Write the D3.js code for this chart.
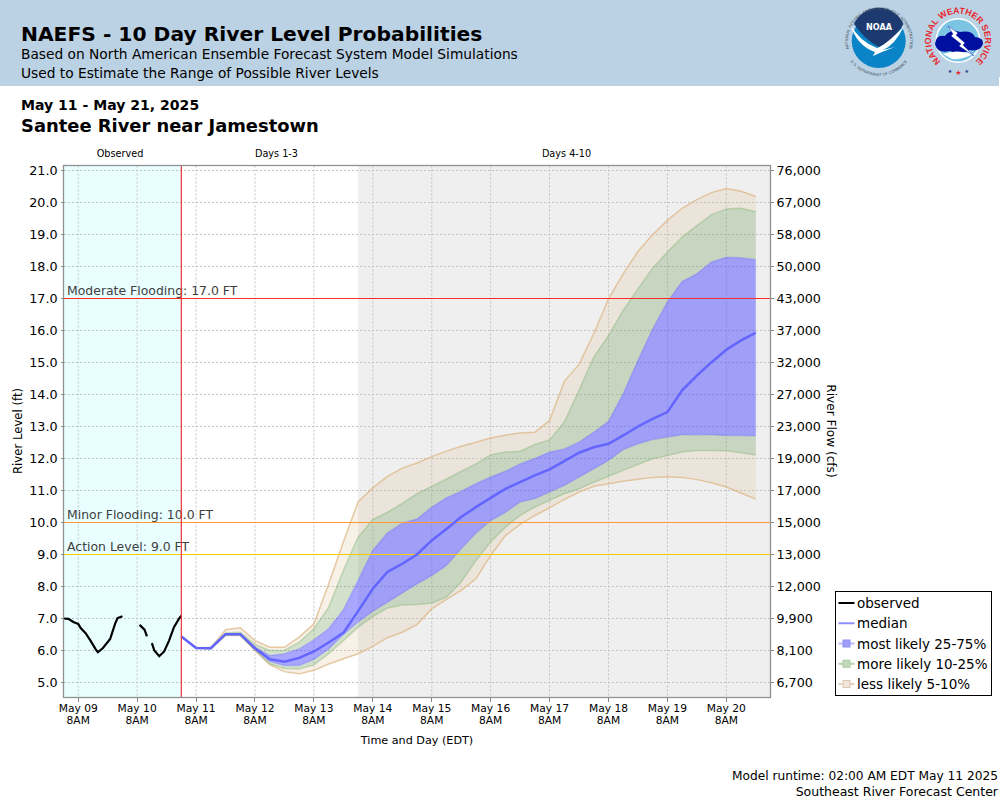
<!DOCTYPE html>
<html>
<head>
<meta charset="utf-8">
<title>NAEFS - 10 Day River Level Probabilities</title>
<script src="https://cdn.jsdelivr.net/npm/d3@7"></script>
<style>
  html, body { margin: 0; padding: 0; background: #fff; }
  svg { display: block; font-family: "DejaVu Sans", sans-serif; }
  .tick line { stroke: #888; shape-rendering: crispEdges; }
  .crisp { shape-rendering: crispEdges; }
  .domain { display: none; }
</style>
</head>
<body>
<svg id="chart" width="1000" height="800"></svg>
<script>
// left axis ticks and the flow label that goes with each stage
const stageTicks = [21, 20, 19, 18, 17, 16, 15, 14, 13, 12, 11, 10, 9, 8, 7, 6, 5];
const flowLabels = ["76,000", "67,000", "58,000", "50,000", "43,000", "37,000", "32,000", "27,000", "23,000",
                    "19,000", "17,000", "15,000", "13,000", "12,000", "9,900", "8,100", "6,700"];
const dayTicks = ["05-09", "05-10", "05-11", "05-12", "05-13", "05-14", "05-15", "05-16", "05-17", "05-18", "05-19", "05-20"];

const thresholdNames = ["Moderate Flooding: 17.0 FT", "Minor Flooding: 10.0 FT", "Action Level: 9.0 FT"];
const thresholdLevels = [17, 10, 9];
const thresholdColors = ["#ff2a2a", "#ff9a33", "#ffcc00"];

// observed stage, null where the gauge has a gap
const observedTimes = ["05-09 02", "05-09 04", "05-09 06", "05-09 08", "05-09 09", "05-09 11", "05-09 13", "05-09 15", "05-09 16",
                       "05-09 18", "05-09 21", "05-09 23", "05-10 00", "05-10 02", "05-10 05", "05-10 09", "05-10 11", "05-10 12",
                       "05-10 13", "05-10 14", "05-10 15", "05-10 17", "05-10 19", "05-10 21", "05-10 23", "05-11 01", "05-11 02"];
const observedLevels = [7.00, 6.99, 6.89, 6.83, 6.70, 6.54, 6.31, 6.05, 5.95,
                        6.07, 6.36, 6.83, 7.01, 7.07, null, 6.80, 6.65, 6.44,
                        null, 6.23, 6.00, 5.82, 5.97, 6.31, 6.73, 6.99, 7.09];

// forecast percentiles, one value every 6 hours from the model run
const p95 = [6.44, 6.09, 6.09, 6.65, 6.71, 6.31, 6.10, 6.10, 6.42, 6.83, 8.08, 9.39, 10.64, 11.08, 11.44, 11.70, 11.86, 12.06, 12.23, 12.38,
             12.51, 12.64, 12.73, 12.80, 12.82, 13.19, 14.41, 14.94, 15.90, 16.99, 17.77, 18.47, 19.00, 19.44, 19.82, 20.09, 20.31, 20.44, 20.35, 20.19];
const p90 = [6.44, 6.08, 6.08, 6.55, 6.57, 6.19, 6.00, 6.00, 6.26, 6.68, 7.35, 8.50, 9.54, 10.09, 10.32, 10.60, 10.90, 11.13, 11.36, 11.60,
             11.83, 12.11, 12.20, 12.23, 12.44, 12.58, 13.14, 14.13, 15.17, 15.84, 16.63, 17.30, 17.95, 18.45, 18.92, 19.28, 19.62, 19.80, 19.82, 19.71];
const p75 = [6.44, 6.08, 6.07, 6.52, 6.52, 6.10, 5.84, 5.90, 6.05, 6.33, 6.68, 7.27, 8.19, 9.13, 9.68, 9.98, 10.11, 10.48, 10.77, 10.98,
             11.21, 11.42, 11.60, 11.83, 12.00, 12.20, 12.30, 12.51, 12.82, 13.16, 14.02, 15.06, 16.05, 16.89, 17.53, 17.77, 18.14, 18.29, 18.27, 18.21];
const p50 = [6.44, 6.08, 6.07, 6.51, 6.51, 6.07, 5.73, 5.65, 5.77, 5.97, 6.25, 6.55, 7.23, 7.93, 8.46, 8.71, 9.00, 9.44, 9.80, 10.17,
             10.48, 10.77, 11.05, 11.26, 11.47, 11.66, 11.92, 12.18, 12.35, 12.46, 12.72, 13.00, 13.24, 13.45, 14.13, 14.59, 15.01, 15.40, 15.69, 15.93];
const p25 = [6.44, 6.08, 6.06, 6.50, 6.50, 6.04, 5.66, 5.53, 5.53, 5.72, 6.05, 6.50, 6.89, 7.23, 7.51, 7.80, 8.08, 8.34, 8.66, 9.18,
             9.67, 10.06, 10.32, 10.64, 10.75, 10.95, 11.16, 11.42, 11.68, 11.94, 12.28, 12.46, 12.59, 12.67, 12.74, 12.75, 12.74, 12.72, 12.72, 12.71];
const p10 = [6.44, 6.07, 6.06, 6.48, 6.48, 6.02, 5.58, 5.44, 5.42, 5.55, 5.90, 6.31, 6.73, 7.06, 7.33, 7.42, 7.44, 7.48, 7.67, 8.14,
             8.81, 9.39, 9.85, 10.22, 10.48, 10.69, 10.90, 11.05, 11.26, 11.44, 11.63, 11.81, 11.99, 12.09, 12.20, 12.25, 12.25, 12.24, 12.18, 12.11];
const p5 = [6.44, 6.07, 6.05, 6.47, 6.47, 6.00, 5.56, 5.34, 5.27, 5.38, 5.58, 5.74, 5.90, 6.13, 6.40, 6.57, 6.81, 7.30, 7.60, 7.88,
            8.24, 8.97, 9.59, 9.94, 10.22, 10.46, 10.72, 10.95, 11.13, 11.21, 11.29, 11.35, 11.41, 11.43, 11.41, 11.34, 11.24, 11.11, 10.92, 10.73];

const legendNames = ["observed", "median", "most likely 25-75%", "more likely 10-25%", "less likely 5-10%"];

const parseHour = d3.timeParse("%Y-%m-%d %H");
const t = s => parseHour("2025-" + s);
const runTime = t("05-11 02");
const forecastTimes = p50.map((d, i) => d3.timeHour.offset(runTime, i * 6));

const svg = d3.select("#chart");
const plot = { left: 63.5, right: 770.5, top: 165.5, bottom: 697.5 };

const x = d3.scaleTime().domain([t("05-09 02"), t("05-21 02")]).range([plot.left, plot.right]);
const y = d3.scaleLinear().domain([4.53125, 21.15625]).range([plot.bottom, plot.top]);

// header strip
svg.append("rect").attr("width", 1000).attr("height", 86).attr("fill", "#bbd2e5");
svg.append("rect").attr("x", 999).attr("y", 77).attr("width", 1).attr("height", 9).attr("fill", "#fff");

const headText = (str, px, py, size, weight) => svg.append("text")
    .attr("x", px).attr("y", py)
    .attr("font-size", size)
    .attr("font-weight", weight || "normal")
    .attr("fill", "#000")
    .text(str);

headText("NAEFS - 10 Day River Level Probabilities", 21, 41, 20.25, "bold");
headText("Based on North American Ensemble Forecast System Model Simulations", 21, 59, 13.76);
headText("Used to Estimate the Range of Possible River Levels", 21, 78, 13.76);
headText("May 11 - May 21, 2025", 21, 110, 14.05, "bold");
headText("Santee River near Jamestown", 21, 132, 17.9, "bold");

// logos
const defs = svg.append("defs");
defs.append("path").attr("id", "noaaRing").attr("d", "M 850.9 54.1 A 31 31 0 1 1 907.1 54.1");
defs.append("path").attr("id", "noaaRingLow").attr("d", "M 848.7 58.5 A 35 35 0 0 0 909.3 58.5");
defs.append("path").attr("id", "nwsRing").attr("d", "M 946.6 65 A 27 27 0 1 1 969.4 65");

const noaa = svg.append("g");
noaa.append("circle").attr("cx", 878.7).attr("cy", 41).attr("r", 27).attr("fill", "#0a84c6");
noaa.append("path").attr("d", "M 854 24 A 27 27 0 0 1 903.5 24 Q 893 42 879 47 Q 866 41 854 24 Z").attr("fill", "#1d3a70");
noaa.append("path").attr("d", "M 850 24 Q 860 42 877 48 Q 886 45 904 26 Q 895 45 883 50 L 895 47 L 882 52 L 873 56 L 875 52 Q 857 46 850 24 Z").attr("fill", "#fff");
noaa.append("text").attr("x", 866).attr("y", 30).attr("textLength", 26).attr("lengthAdjust", "spacingAndGlyphs").attr("font-size", 9.5).attr("font-weight", "bold").attr("fill", "#fff").text("NOAA");
noaa.append("text").attr("font-size", 3.9).attr("fill", "#44525f")
    .append("textPath").attr("href", "#noaaRing").attr("startOffset", "50%").attr("text-anchor", "middle")
    .text("NATIONAL OCEANIC AND ATMOSPHERIC ADMINISTRATION");
noaa.append("text").attr("font-size", 3.9).attr("fill", "#44525f")
    .append("textPath").attr("href", "#noaaRingLow").attr("startOffset", "50%").attr("text-anchor", "middle")
    .text("U.S. DEPARTMENT OF COMMERCE");

const nws = svg.append("g");
nws.append("circle").attr("cx", 958).attr("cy", 40.5).attr("r", 22.5).attr("fill", "#fff");
nws.append("circle").attr("cx", 958).attr("cy", 40.5).attr("r", 21).attr("fill", "#7cc4e4");
nws.append("path").attr("d", "M 935 44 Q 936 34 945 36 Q 950 29 960 32 Q 972 30 975 37 Q 984 38 983 44 Q 980 52 970 50 Q 960 56 950 51 Q 937 54 935 44 Z").attr("fill", "#000f9f");
nws.append("path").attr("d", "M 943 54 Q 956 49 973 54 Q 962 60 952 59 Z").attr("fill", "#fff");
nws.append("path").attr("d", "M 948 26 L 958 33 L 956 35 L 965 43 L 963 45 L 974 56 L 959 46 L 961 44 L 951 36 L 953 34 Z").attr("fill", "#fff").attr("stroke", "#000f9f").attr("stroke-width", 0.4);
nws.append("text").attr("font-family", "Liberation Sans").attr("font-size", 8.8).attr("font-weight", "bold").attr("fill", "#e8272c")
    .append("textPath").attr("href", "#nwsRing").attr("startOffset", "50%").attr("text-anchor", "middle")
    .text("NATIONAL WEATHER SERVICE");
nws.selectAll("text.star").data([[950, 73, "#1f3a93", 5], [958.3, 74.5, "#e8272c", 7], [966.7, 73, "#1f3a93", 5]]).join("text")
    .attr("class", "star")
    .attr("x", d => d[0]).attr("y", d => d[1])
    .attr("text-anchor", "middle").attr("font-size", d => d[3]).attr("fill", d => d[2]).text("★");

// shaded periods
svg.append("rect").attr("x", plot.left).attr("y", plot.top).attr("width", x(runTime) - plot.left).attr("height", plot.bottom - plot.top).attr("fill", "#e9ffff");
const day3 = d3.timeDay.offset(runTime, 3);
svg.append("rect").attr("x", x(day3)).attr("y", plot.top).attr("width", plot.right - x(day3)).attr("height", plot.bottom - plot.top).attr("fill", "#efefef");

// grid
const dayTimes = dayTicks.map(d => t(d + " 08"));
const gridColor = "#c2c2c2";
svg.append("g").selectAll("line").data(stageTicks).join("line")
    .attr("class", "crisp")
    .attr("x1", plot.left).attr("x2", plot.right)
    .attr("y1", d => y(d)).attr("y2", d => y(d))
    .attr("stroke", gridColor).attr("stroke-dasharray", "2,2");
svg.append("g").selectAll("line").data(dayTimes).join("line")
    .attr("y1", plot.top).attr("y2", plot.bottom)
    .attr("x1", d => x(d)).attr("x2", d => x(d))
    .attr("stroke", gridColor).attr("stroke-dasharray", "2,2");

// probability bands
const band = (upper, lower, fill) => {
    const area = d3.area()
        .x((d, i) => x(forecastTimes[i]))
        .y0((d, i) => y(lower[i]))
        .y1((d, i) => y(upper[i]));
    svg.append("path").datum(upper).attr("d", area).attr("fill", fill);
};
const edge = (values, color, width) => {
    const line = d3.line().x((d, i) => x(forecastTimes[i])).y(d => y(d));
    svg.append("path").datum(values).attr("d", line).attr("fill", "none").attr("stroke", color).attr("stroke-width", width);
};

const tanFill = "rgba(222,184,135,0.2)", greenFill = "rgba(128,166,110,0.35)", blueFill = "rgba(80,80,255,0.5)";
band(p95, p90, tanFill);
band(p10, p5, tanFill);
band(p90, p75, greenFill);
band(p25, p10, greenFill);
band(p75, p25, blueFill);
edge(p95, "rgba(222,184,135,0.75)", 1.5);
edge(p5, "rgba(222,184,135,0.75)", 1.5);
edge(p90, "rgba(128,180,110,0.4)", 1.5);
edge(p10, "rgba(128,180,110,0.4)", 1.5);
edge(p75, "rgba(80,80,255,0.25)", 1.5);
edge(p25, "rgba(80,80,255,0.25)", 1.5);

// flood thresholds
thresholdLevels.forEach((level, i) => {
    svg.append("line").attr("class", "crisp")
        .attr("x1", plot.left).attr("x2", plot.right)
        .attr("y1", y(level)).attr("y2", y(level))
        .attr("stroke", thresholdColors[i]).attr("stroke-width", 1);
    svg.append("text")
        .attr("x", 67).attr("y", y(level) - 3.5)
        .attr("font-size", 12.45).attr("fill", "#404040")
        .text(thresholdNames[i]);
});

edge(p50, "#6464ff", 2.5);

const observedLine = d3.line()
    .defined(d => d.level !== null)
    .x(d => x(d.time))
    .y(d => y(d.level));
svg.append("path")
    .datum(observedLevels.map((level, i) => ({ time: t(observedTimes[i]), level: level })))
    .attr("d", observedLine)
    .attr("fill", "none").attr("stroke", "#000").attr("stroke-width", 2.2);

svg.append("line")
    .attr("x1", x(runTime)).attr("x2", x(runTime))
    .attr("y1", plot.top).attr("y2", plot.bottom)
    .attr("stroke", "#e33").attr("stroke-width", 1.2);

// frame
svg.append("rect")
    .attr("x", plot.left).attr("y", plot.top)
    .attr("width", plot.right - plot.left).attr("height", plot.bottom - plot.top)
    .attr("fill", "none").attr("stroke", "#919191").attr("stroke-width", 1.3);

// axes
const leftAxis = svg.append("g")
    .attr("transform", `translate(${plot.left},0)`)
    .call(d3.axisLeft(y).offset(0).tickValues(stageTicks).tickFormat(d3.format(".1f")).tickSize(3).tickPadding(3));
leftAxis.selectAll("text").attr("font-size", 12.7).attr("font-family", "DejaVu Sans").attr("fill", "#000");

const rightAxis = svg.append("g")
    .attr("transform", `translate(${plot.right},0)`)
    .call(d3.axisRight(y).offset(0).tickValues(stageTicks).tickFormat((d, i) => flowLabels[i]).tickSize(3).tickPadding(3));
rightAxis.selectAll("text").attr("font-size", 12.7).attr("font-family", "DejaVu Sans").attr("fill", "#000");

const bottomAxis = svg.append("g")
    .attr("transform", `translate(0,${plot.bottom})`)
    .call(d3.axisBottom(x).offset(0).tickValues(dayTimes).tickFormat(d3.timeFormat("%b %d")).tickSize(4).tickPadding(3));
bottomAxis.selectAll("text").attr("font-size", 10.7).attr("font-family", "DejaVu Sans").attr("fill", "#000");
bottomAxis.selectAll(".tick").append("text")
    .attr("y", 26.5).attr("text-anchor", "middle")
    .attr("font-size", 10.7).attr("font-family", "DejaVu Sans").attr("fill", "#000")
    .text("8AM");

const smallLabel = (str, px, py, size) => svg.append("text")
    .attr("x", px).attr("y", py)
    .attr("text-anchor", "middle").attr("font-size", size).attr("fill", "#000")
    .text(str);
smallLabel("Observed", 120, 157, 9.7);
smallLabel("Days 1-3", 276.5, 157, 9.7);
smallLabel("Days 4-10", 566.5, 157, 9.7);
smallLabel("Time and Day (EDT)", 417, 744, 11.2);

svg.append("text").attr("transform", "translate(22,431) rotate(-90)")
    .attr("text-anchor", "middle").attr("font-size", 11.7).text("River Level (ft)");
svg.append("text").attr("transform", "translate(827,431) rotate(90)")
    .attr("text-anchor", "middle").attr("font-size", 12.1).text("River Flow (cfs)");

// legend
const legend = svg.append("g");
legend.append("rect").attr("class", "crisp").attr("x", 835.5).attr("y", 591.5).attr("width", 156).attr("height", 104)
    .attr("fill", "#fff").attr("stroke", "#000");
const legendColors = ["#000", "#8f8fff", "#b9b9ff", "#b5d1ad", "#e6d3be"];
const legendBoxes = [null, null, "#9f9ffb", "#c4d8bd", "#efe6da"];
const legendBoxStroke = [null, null, "#8f8ff5", "#a9cca0", "#dcc8ae"];
const legendY = d3.scalePoint().domain(legendNames).range([603, 684]);
legendNames.forEach((name, i) => {
    const ly = legendY(name);
    legend.append("line").attr("x1", 838.5).attr("x2", 854.5).attr("y1", ly).attr("y2", ly)
        .attr("stroke", legendColors[i]).attr("stroke-width", 2);
    if (legendBoxes[i]) {
        legend.append("rect").attr("x", 843).attr("y", ly - 3.5).attr("width", 7).attr("height", 7)
            .attr("fill", legendBoxes[i]).attr("stroke", legendBoxStroke[i]);
    }
    legend.append("text").attr("x", 857).attr("y", ly + 5).attr("font-size", 13.5).attr("fill", "#000").text(name);
});

// footer
const footer = (str, py, size) => svg.append("text")
    .attr("x", 998).attr("y", py).attr("text-anchor", "end")
    .attr("font-size", size).attr("fill", "#000").text(str);
footer("Model runtime: 02:00 AM EDT May 11 2025", 780, 12.2);
footer("Southeast River Forecast Center", 796, 12.5);
</script>
</body>
</html>
